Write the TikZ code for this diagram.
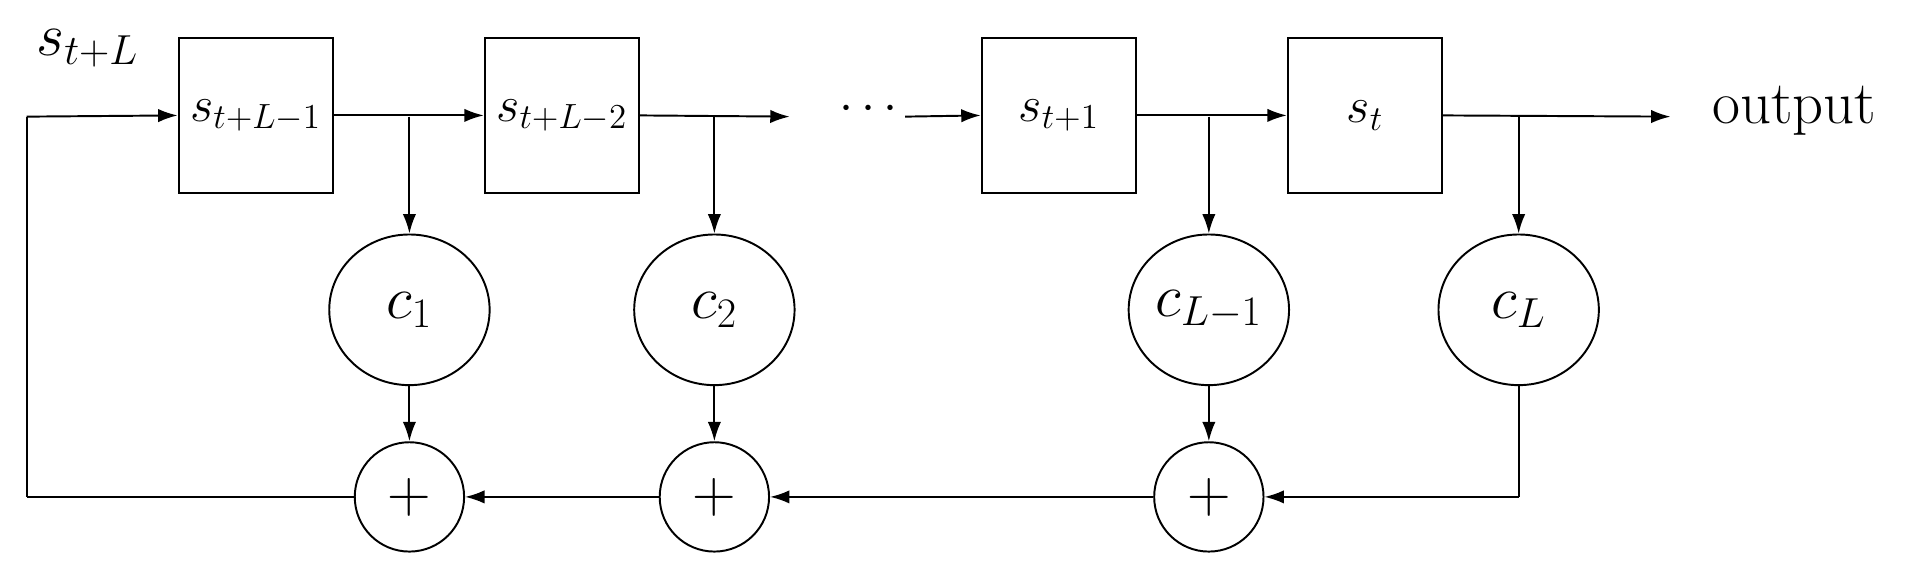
\documentclass[tikz,border=0pt]{standalone}
\usetikzlibrary{arrows.meta,shapes.geometric}
\begin{document}
\begin{tikzpicture}[x=0.5pt,y=-0.5pt,line width=0.8pt,
  reg/.style={draw,minimum width=63.5pt,minimum height=63.5pt,inner sep=0pt,font=\fontsize{20}{24}\selectfont},
  coef/.style={draw,ellipse,minimum width=66pt,minimum height=62pt,inner sep=0pt,font=\fontsize{25}{30}\selectfont},
  add/.style={draw,circle,minimum size=45pt,inner sep=0pt,font=\fontsize{27}{32}\selectfont},
  arr/.style={-{Latex[length=8pt,width=5.5pt]}}]
\useasboundingbox (0,0) rectangle (1568,476);
\node[reg] (r1) at (210.5,95) {$s_{t+L-1}$};
\node[reg] (r2) at (462.5,95) {$s_{t+L-2}$};
\node[reg] (r3) at (871.5,95) {$s_{t+1}$};
\node[reg] (r4) at (1123.5,95) {$s_{t}$};
\node[coef] (c1) at (337,255) {$c_1$};
\node[coef] (c2) at (588,255) {$c_2$};
\node[coef] (c3) at (995,255) {$c_{L-1}$};
\node[coef] (c4) at (1250,255) {$c_L$};
\node[add] (a1) at (337,409) {$+$};
\node[add] (a2) at (588,409) {$+$};
\node[add] (a3) at (995,409) {$+$};
\node[font=\fontsize{22}{26}\selectfont] (dots) at (715,90) {$\cdots$};
\node[font=\fontsize{24}{28}\selectfont] (sl) at (72,40) {$s_{t+L}$};
\node[font=\fontsize{25}{30}\selectfont,anchor=west] (out) at (1402,91) {output};
\coordinate (d1) at (650,96);
\coordinate (d2) at (745,96);
\coordinate (o) at (1375,96);
\coordinate (bl) at (22,409);
\coordinate (tl) at (22,96);
\coordinate (br) at (1250,409);
\draw[arr] (tl) -- (r1.west);
\draw (bl) -- (tl);
\draw (a1.west) -- (bl);
\draw[arr] (r1.east) -- (r2.west);
\draw[arr] (r2.east) -- (d1);
\draw[arr] (d2) -- (r3.west);
\draw[arr] (r3.east) -- (r4.west);
\draw[arr] (r4.east) -- (o);
\draw[arr] (337,96) -- (c1.north);
\draw[arr] (588,96) -- (c2.north);
\draw[arr] (995,96) -- (c3.north);
\draw[arr] (1250,96) -- (c4.north);
\draw[arr] (c1.south) -- (a1.north);
\draw[arr] (c2.south) -- (a2.north);
\draw[arr] (c3.south) -- (a3.north);
\draw (c4.south) -- (br);
\draw[arr] (br) -- (a3.east);
\draw[arr] (a3.west) -- (a2.east);
\draw[arr] (a2.west) -- (a1.east);
\end{tikzpicture}
\end{document}
